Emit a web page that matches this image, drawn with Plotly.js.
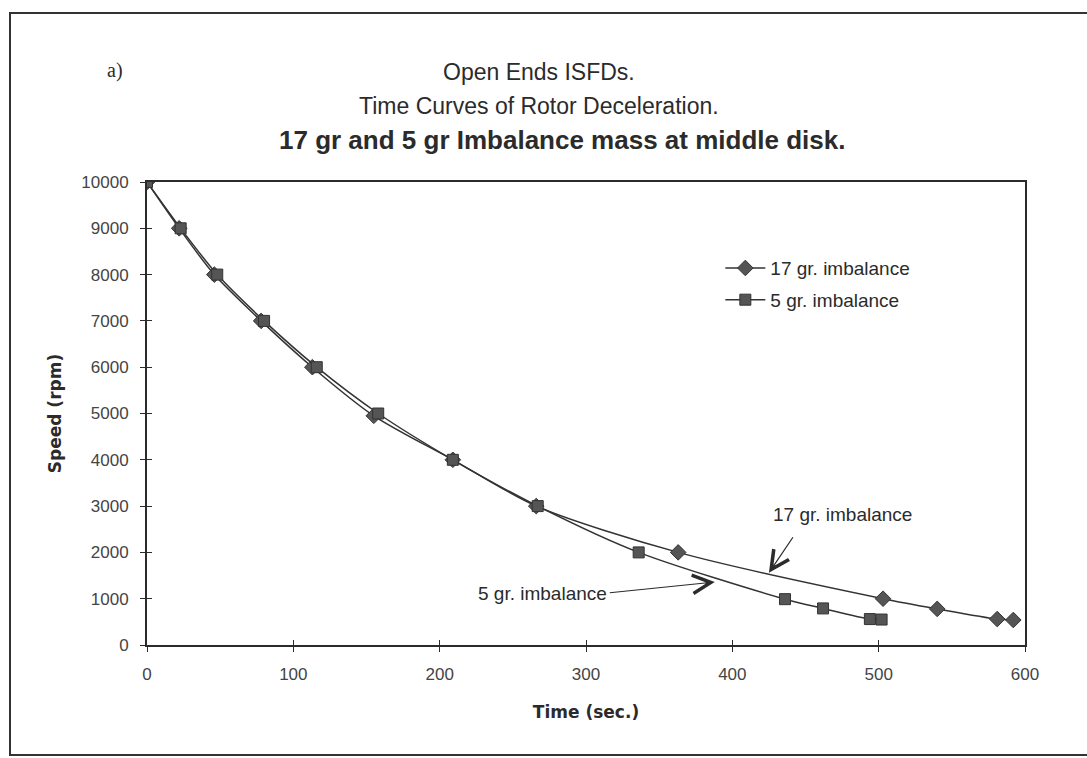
<!DOCTYPE html>
<html>
<head>
<meta charset="utf-8">
<script src="https://cdn.plot.ly/plotly-3.0.1.min.js"></script>
<style>
  html, body { margin: 0; padding: 0; background: #ffffff; }
  #chart { width: 1087px; height: 758px; }
</style>
</head>
<body>
<div id="chart"></div>
<script>
// Rotor run-down measurements: time (s) vs. speed (rpm)
const time17 = [0, 22, 46, 78, 113, 155, 209, 266, 363, 503, 540, 581, 592];
const speed17 = [10000, 9000, 8000, 7000, 6000, 4950, 4000, 3000, 2000, 1000, 780, 560, 540];

const time5 = [0, 23, 48, 80, 116, 158, 209, 267, 336, 436, 462, 494, 502];
const speed5 = [10000, 9000, 8000, 7000, 6000, 5000, 4000, 3000, 2000, 990, 790, 560, 550];

const seriesNames = ['17 gr. imbalance', '5 gr. imbalance'];
const xTicks = [0, 100, 200, 300, 400, 500, 600];
const yTicks = [0, 1000, 2000, 3000, 4000, 5000, 6000, 7000, 8000, 9000, 10000];

const titleLines = [
  'Open Ends ISFDs.',
  'Time Curves of Rotor Deceleration.',
  '17 gr and 5 gr Imbalance mass at middle disk.'
];

const ink = '#2b2b2b';
const font = 'Liberation Sans, Arial, sans-serif';
const wideBold = 'DejaVu Sans, Verdana, sans-serif';

const traces = [
  {
    x: time17, y: speed17, name: seriesNames[0], legendgroup: 'a',
    mode: 'lines+markers', type: 'scatter',
    line: { color: '#333333', width: 1.5, shape: 'spline', smoothing: 0.8 },
    marker: { symbol: 'diamond', size: 12, color: '#555555', line: { color: '#333333', width: 1 } }
  },
  {
    x: time5, y: speed5, name: seriesNames[1], legendgroup: 'b',
    mode: 'lines+markers', type: 'scatter',
    line: { color: '#333333', width: 1.5, shape: 'spline', smoothing: 0.8 },
    marker: { symbol: 'square', size: 11, color: '#555555', line: { color: '#333333', width: 1 } }
  },
  // invisible trace carrying the second axis pair (inner tick marks)
  { x: [0, 600], y: [0, 0], xaxis: 'x2', yaxis: 'y2', mode: 'markers',
    marker: { opacity: 0 }, showlegend: false, hoverinfo: 'skip' }
];

const annotations = [
  { text: titleLines[0], x: 0.447, y: 1.271, xref: 'paper', yref: 'paper',
    showarrow: false, font: { family: font, size: 23, color: ink } },
  { text: titleLines[1], x: 0.446, y: 1.197, xref: 'paper', yref: 'paper',
    showarrow: false, font: { family: font, size: 23, color: ink } },
  { text: titleLines[2], x: 0.473, y: 1.127, xref: 'paper', yref: 'paper',
    showarrow: false, font: { family: font, size: 26, color: ink, weight: 'bold' } },
  { text: 'a)', x: -0.048, y: 1.271, xref: 'paper', yref: 'paper',
    showarrow: false, font: { family: 'Liberation Serif, DejaVu Serif, serif', size: 20, color: ink } },
  // curve labels
  { text: seriesNames[0], x: 475.6, y: 2808, xref: 'x', yref: 'y', showarrow: false,
    font: { family: font, size: 19, color: ink } },
  { text: ' ', x: 425, y: 1560, xref: 'x', yref: 'y', showarrow: true,
    ax: 27, ay: -40, arrowhead: 5, arrowsize: 3, arrowwidth: 1.2, arrowcolor: ink },
  { text: seriesNames[1], x: 270, y: 1123, xref: 'x', yref: 'y', showarrow: false,
    font: { family: font, size: 19, color: ink } },
  { text: ' ', x: 388, y: 1360, xref: 'x', yref: 'y', showarrow: true,
    ax: -108, ay: 11, arrowhead: 5, arrowsize: 3, arrowwidth: 1.2, arrowcolor: ink }
];

const layout = {
  width: 1087, height: 758,
  paper_bgcolor: '#ffffff', plot_bgcolor: '#ffffff',
  margin: { l: 147, r: 62, t: 182, b: 113 },
  showlegend: true,
  legend: {
    x: 0.653, y: 0.855, xanchor: 'left', yanchor: 'top',
    bgcolor: 'rgba(0,0,0,0)', font: { family: font, size: 19, color: ink },
    traceorder: 'grouped', tracegroupgap: 4, itemwidth: 40
  },
  xaxis: {
    range: [0, 600], tickvals: xTicks, ticktext: xTicks.map(String),
    showgrid: false, zeroline: false, showline: true, mirror: true,
    linecolor: ink, linewidth: 2, ticks: 'outside', ticklen: 5, tickcolor: ink, tickwidth: 1,
    ticklabelstandoff: 8,
    tickfont: { family: font, size: 17, color: '#444' },
    title: { text: '<b>Time (sec.)</b>', font: { family: wideBold, size: 17, color: ink }, standoff: 23 }
  },
  xaxis2: {
    overlaying: 'x', range: [0, 600], tickvals: xTicks, showticklabels: false,
    showgrid: false, zeroline: false, showline: false, ticks: 'inside', ticklen: 5, tickcolor: ink
  },
  yaxis: {
    range: [0, 10000], tickvals: yTicks, ticktext: yTicks.map(String),
    showgrid: false, zeroline: false, showline: true, mirror: true,
    linecolor: ink, linewidth: 2, ticks: 'outside', ticklen: 5, tickcolor: ink, tickwidth: 1,
    ticklabelstandoff: 8,
    tickfont: { family: font, size: 17, color: '#444' },
    title: { text: '<b>Speed (rpm)</b>', font: { family: wideBold, size: 17, color: ink }, standoff: 15 }
  },
  yaxis2: {
    overlaying: 'y', range: [0, 10000], tickvals: yTicks, showticklabels: false,
    showgrid: false, zeroline: false, showline: false, ticks: 'inside', ticklen: 5, tickcolor: ink
  },
  annotations: annotations,
  shapes: [
    // outer chart frame
    { type: 'rect', xref: 'paper', yref: 'paper',
      x0: (10 - 147) / 878, x1: (1110 - 147) / 878,
      y0: (645 - 755) / 463, y1: (645 - 13) / 463,
      line: { color: '#333', width: 2 } }
  ]
};

Plotly.newPlot('chart', traces, layout, { staticPlot: true, displayModeBar: false });
</script>
</body>
</html>
